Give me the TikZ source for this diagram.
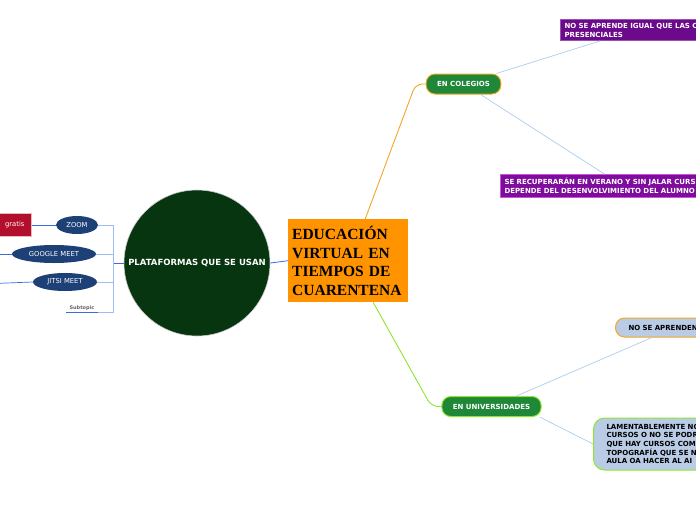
\documentclass[tikz,border=0pt]{standalone}
\usepackage{fontspec}
\setmainfont{DejaVu Sans}
\newfontfamily\titlefont{Liberation Serif}
\usetikzlibrary{shapes.geometric}

\definecolor{topicorange}{HTML}{FF9400}
\definecolor{circlegreen}{HTML}{07350F}
\definecolor{pillgreen}{HTML}{1E8838}
\definecolor{edgeorange}{HTML}{F5A623}
\definecolor{edgelime}{HTML}{8CE62E}
\definecolor{twigblue}{HTML}{A9CDEF}
\definecolor{platblue}{HTML}{1D4177}
\definecolor{bracketblue}{HTML}{9DBCF6}
\definecolor{stemblue}{HTML}{3A6BE0}
\definecolor{notepurple}{HTML}{6C0A8C}
\definecolor{noteviolet}{HTML}{7E0C9C}
\definecolor{notefill}{HTML}{BACBE6}
\definecolor{giftred}{HTML}{B30E2C}

\tikzset{
  pill/.style={rectangle, rounded corners=9pt, fill=pillgreen, text=white,
    font=\bfseries\fontsize{7}{8}\selectfont, minimum height=20pt,
    inner xsep=11pt, line width=1pt},
  note/.style={rectangle, anchor=west, align=left, text=white,
    font=\bfseries\fontsize{7}{9}\selectfont, line width=1pt,
    inner xsep=4pt, text width=240pt},
  softnote/.style={rectangle, anchor=west, align=left, fill=notefill,
    font=\bfseries\fontsize{7}{8.6}\selectfont, line width=1pt,
    rounded corners=11pt, inner xsep=13pt, text width=220pt},
  platform/.style={ellipse, fill=platblue, text=white, inner sep=0pt,
    font=\fontsize{6.8}{8}\selectfont, minimum height=18pt},
  twig/.style={draw=twigblue, line width=0.7pt},
  bracket/.style={draw=bracketblue, line width=0.8pt},
}

\begin{document}
\begin{tikzpicture}[x=1pt,y=-1pt]
  \useasboundingbox (0,0) rectangle (696,520);
  \clip (0,0) rectangle (696,520);

  % central topic and the circle of platforms
  \node[rectangle,fill=topicorange,anchor=north west,minimum height=83pt,
        text width=112pt,inner sep=4pt,align=left,
        font=\titlefont\bfseries\fontsize{15.5}{18.5}\selectfont] (edu) at (288,219)
    {EDUCACIÓN\\VIRTUAL EN\\TIEMPOS DE\\CUARENTENA};
  \node[circle,fill=circlegreen,draw=gray!40,line width=0.6pt,minimum size=146pt,
        text=white,font=\bfseries\fontsize{8.5}{9}\selectfont,inner sep=0pt] (plat) at (197,263)
    {PLATAFORMAS QUE SE USAN};
  \draw[stemblue,line width=0.8pt] (plat.east) -- (edu.west);

  % main branches
  \node[pill,draw=edgeorange] (col) at (463.5,84) {EN COLEGIOS};
  \node[pill,draw=edgelime] (uni) at (491.5,406.5) {EN UNIVERSIDADES};
  \draw[edgeorange,line width=0.9pt,rounded corners=7pt]
    ([xshift=17pt]edu.north) -- ([xshift=-10pt]col.west) -- (col.west);
  \draw[edgelime,line width=0.9pt,rounded corners=7pt]
    ([xshift=25pt]edu.south) -- ([xshift=-10pt]uni.west) -- (uni.west);

  % notes on the right
  \node[note,fill=notepurple,draw=notepurple!70!white] (igual) at (560,30)
    {NO SE APRENDE IGUAL QUE LAS C\\PRESENCIALES};
  \node[note,fill=noteviolet,draw=noteviolet!55!magenta!70!white] (verano) at (500,186)
    {SE RECUPERARÁN EN VERANO Y SIN JALAR CURS\\DEPENDE DEL DESENVOLVIMIENTO DEL ALUMNO};
  \node[softnote,draw=edgeorange,rounded corners=9pt,minimum height=19pt] (aprenden) at (615,327.5)
    {NO SE APRENDEN};
  \node[softnote,draw=edgelime,minimum height=52pt] (lamenta) at (593,444)
    {LAMENTABLEMENTE NO\\CURSOS O NO SE PODR\\QUE HAY CURSOS COM\\TOPOGRAFÍA QUE SE N\\AULA OA HACER AL AI};
  \draw[twig] ([xshift=-5pt]col.north east) -- ([xshift=40pt]igual.south west);
  \draw[twig] ([xshift=17pt]col.south) -- ([xshift=105pt]verano.north west);
  \draw[twig] ([xshift=25pt]uni.north) -- ([xshift=37pt]aprenden.south west);
  \draw[twig] ([xshift=-2pt]uni.south east) -- (lamenta.west);

  % platforms on the left
  \node[platform,minimum width=42pt] (zoom) at (77,225) {ZOOM};
  \node[platform,minimum width=84pt] (gmeet) at (54,254) {GOOGLE MEET};
  \node[platform,minimum width=64pt] (jitsi) at (65,282) {JITSI MEET};
  \node[minimum width=32pt,inner sep=1.5pt,anchor=south,text=gray!80!black,
        font=\bfseries\fontsize{5}{6}\selectfont] (sub) at (82,312) {Subtopic};
  \node[rectangle,fill=giftred,draw=giftred!30!white,line width=1pt,anchor=east,
        minimum height=23pt,inner xsep=7pt,text=white,
        font=\fontsize{6.8}{8}\selectfont] (gratis) at (32,225) {gratis};
  \coordinate (jn) at (113,263);
  \coordinate (gmfar) at (-20,254);
  \coordinate (jifar) at (-20,284);

  \draw[stemblue,line width=0.8pt] (jn) -- (plat.west);
  \draw[bracket] (jn) |- (zoom.east);
  \draw[bracket] (jn) |- (gmeet.east);
  \draw[bracket] (jn) |- (jitsi.east);
  \draw[bracket] (jn) |- (sub.south east);
  \draw[stemblue,line width=1pt] (sub.south west) -- (sub.south east);
  \draw[stemblue,line width=0.8pt] (gratis.east) -- (zoom.west);
  \draw[stemblue,line width=0.7pt] (gmeet.west) -- (gmfar);
  \draw[stemblue,line width=0.7pt] (jitsi.west) -- (jifar);
\end{tikzpicture}
\end{document}
